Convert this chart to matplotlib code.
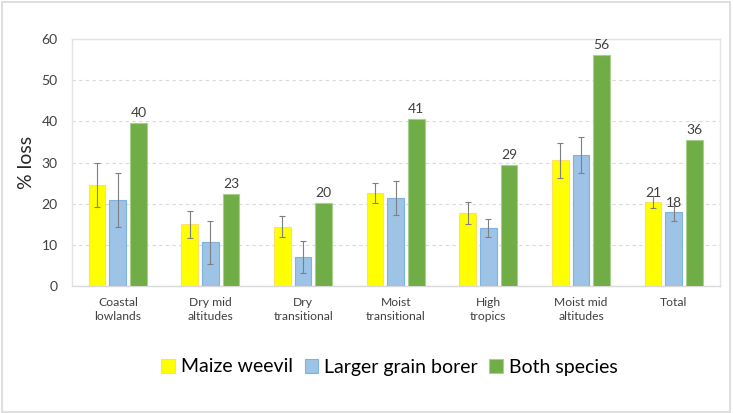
import matplotlib.pyplot as plt
import numpy as np
from matplotlib.patches import Rectangle

plt.rcParams['font.family'] = ['Lato', 'DejaVu Sans']

# Veriler
categories = ["Coastal\nlowlands", "Dry mid\naltitudes", "Dry\ntransitional",
              "Moist\ntransitional", "High\ntropics", "Moist mid\naltitudes", "Total"]
series_names = ["Maize weevil", "Larger grain borer", "Both species"]

maize = [24.5, 15.1, 14.3, 22.6, 17.7, 30.5, 20.5]
maize_lo = [19.1, 11.6, 11.8, 20.1, 15.1, 26.2, 18.9]
maize_hi = [29.8, 18.3, 16.9, 24.9, 20.3, 34.8, 21.8]

borer = [20.9, 10.7, 7.0, 21.3, 14.0, 31.9, 17.9]
borer_lo = [14.3, 5.3, 3.1, 17.3, 11.8, 27.4, 15.8]
borer_hi = [27.5, 15.9, 11.0, 25.4, 16.2, 36.2, 19.5]

both = [39.5, 22.4, 20.2, 40.6, 29.4, 56.0, 35.5]

both_labels = ["40", "23", "20", "41", "29", "56", "36"]
total_labels = ["21", "18"]

colors = ["#FFFF00", "#9DC3E6", "#70AD47"]
edges = ["#FFE066", "#7FB2E0", "#A8D08D"]
label_color = "#404040"

fig = plt.figure(figsize=(7.33, 4.13), dpi=100)
W, H = 733, 413
ax = fig.add_axes([71.5 / W, 1 - 286 / H, (720 - 71.5) / W, (286 - 39) / H])

# Dış çerçeve
fig.patches.append(Rectangle((1.5 / W, 1.5 / H), (730 - 1.5) / W, (411 - 1.5) / H,
                             transform=fig.transFigure, fill=False,
                             edgecolor="#D9D9D9", linewidth=1.2))

x = np.arange(len(categories))
bw = 0.18
step = 0.223

vals = [maize, borer, both]
for i, v in enumerate(vals):
    ax.bar(x + (i - 1) * step, v, width=bw, color=colors[i], edgecolor=edges[i],
           linewidth=0.8, label=series_names[i], zorder=3)

err_sets = [(maize, maize_lo, maize_hi), (borer, borer_lo, borer_hi)]
for i, (v, lo, hi) in enumerate(err_sets):
    v = np.array(v)
    yerr = [v - np.array(lo), np.array(hi) - v]
    ax.errorbar(x + (i - 1) * step, v, yerr=yerr, fmt="none", ecolor="#7F7F7F",
                elinewidth=0.8, capsize=2.2, capthick=0.8, zorder=4)

for xi, v, t in zip(x, both, both_labels):
    ax.text(xi + step, v + 1.0, t, ha="center", va="bottom", fontsize=10,
            color=label_color, zorder=5)

last = len(categories) - 1
ax.text(last - step, maize_hi[last] - 0.6, total_labels[0], ha="center", va="bottom",
        fontsize=10, color=label_color, zorder=5)
ax.text(last, borer_hi[last] - 0.9, total_labels[1], ha="center", va="bottom",
        fontsize=10, color=label_color, zorder=5)

ax.set_ylim(0, 60)
ax.set_xlim(-0.5, len(categories) - 0.5)
ax.set_yticks(np.arange(0, 61, 10))
ax.yaxis.grid(True, linestyle=(0, (3, 3)), color="#D9D9D9", linewidth=0.8, zorder=0)
ax.set_axisbelow(True)

for s in ax.spines.values():
    s.set_color("#E3E3E3")
    s.set_linewidth(1.0)
ax.spines["bottom"].set_color("#D9D9D9")

ax.set_xticks(x)
ax.set_xticklabels(categories, fontsize=8.7, color="#404040", linespacing=1.3)
ax.tick_params(axis="x", length=0, pad=8)
ax.tick_params(axis="y", length=0, pad=10, labelsize=10, labelcolor="#404040")
ax.set_ylabel("% loss", fontsize=14, color="#262626", labelpad=5)

leg = fig.legend(loc="center", bbox_to_anchor=(389.5 / W, 1 - 367 / H),
                 ncol=3, frameon=False, fontsize=14, handlelength=0.7,
                 handleheight=0.7, handletextpad=0.3, columnspacing=0.6)
for t in leg.get_texts():
    t.set_color("#000000")

plt.savefig("out.png", dpi=100)
plt.close()
